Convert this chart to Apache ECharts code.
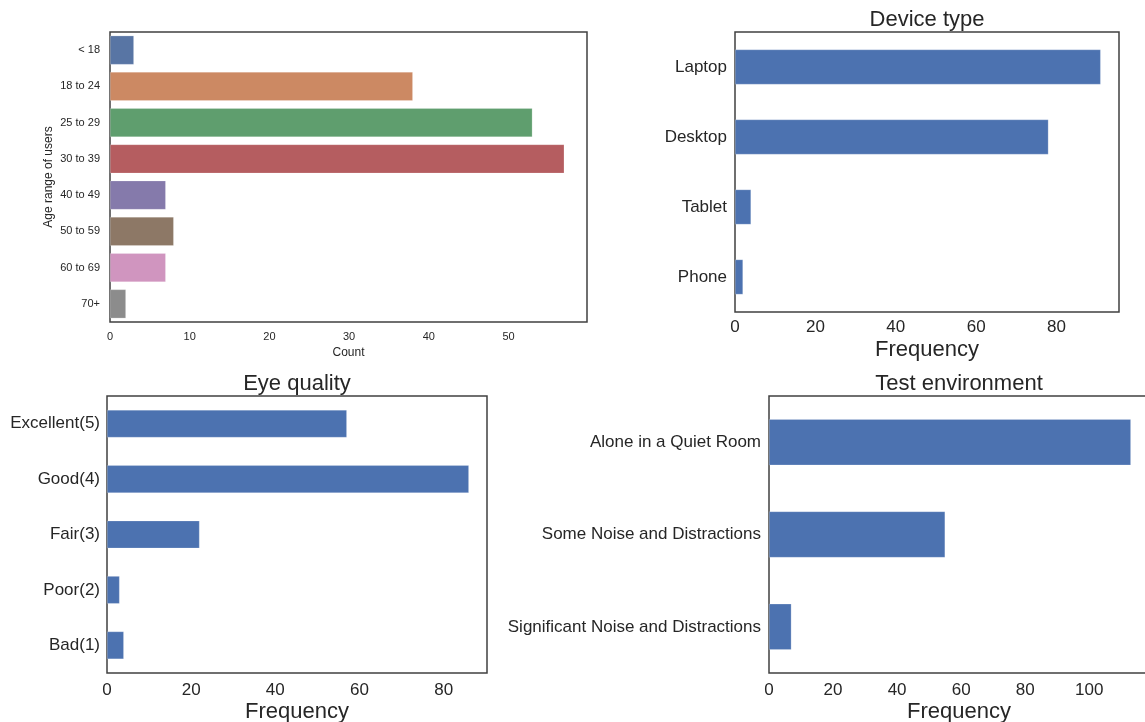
<!DOCTYPE html>
<html>
<head>
<meta charset="utf-8">
<title>Survey participants</title>
<script src="https://cdn.jsdelivr.net/npm/echarts@6/dist/echarts.min.js"></script>
<style>
  html, body { margin: 0; padding: 0; background: #ffffff; }
  #chart { width: 1145px; height: 722px; }
</style>
</head>
<body>
<div id="chart"></div>
<script>
// Age ranges (count of users)
const ageCategories = ['< 18', '18 to 24', '25 to 29', '30 to 39', '40 to 49', '50 to 59', '60 to 69', '70+'];
const ageCounts = [3, 38, 53, 57, 7, 8, 7, 2];
const ageColors = ['#5875a4', '#cc8963', '#5f9e6e', '#b55d60', '#857aab', '#8d7866', '#d095bf', '#8c8c8c'];
const ageTicks = [0, 10, 20, 30, 40, 50];

// Device type
const deviceCategories = ['Laptop', 'Desktop', 'Tablet', 'Phone'];
const deviceCounts = [91, 78, 4, 2];
const deviceTicks = [0, 20, 40, 60, 80];

// Eye quality
const eyeCategories = ['Excellent(5)', 'Good(4)', 'Fair(3)', 'Poor(2)', 'Bad(1)'];
const eyeCounts = [57, 86, 22, 3, 4];
const eyeTicks = [0, 20, 40, 60, 80];

// Test environment
const envCategories = ['Alone in a Quiet Room', 'Some Noise and Distractions', 'Significant Noise and Distractions'];
const envCounts = [113, 55, 7];
const envTicks = [0, 20, 40, 60, 80, 100];

const FONT = '"Liberation Sans", Arial, sans-serif';
const TEXT = '#262626';
const SPINE = '#404040';
const BAR_BLUE = '#4c72b0';

// x range padded by 5% past the largest bar
const padMax = arr => Math.max.apply(null, arr) * 1.05;

function grid(left, top, width, height) {
  return {
    left: left, top: top, width: width, height: height,
    show: true, borderColor: SPINE, borderWidth: 1.5,
    backgroundColor: 'transparent', containLabel: false,
    outerBoundsMode: 'none'
  };
}

function valueAxis(gridIndex, values, ticks, fontSize, labelMargin, name, nameSize, nameGap) {
  return {
    type: 'value', gridIndex: gridIndex,
    min: 0, max: padMax(values), interval: ticks[1] - ticks[0],
    axisLine: { show: false }, axisTick: { show: false }, splitLine: { show: false },
    axisLabel: {
      color: TEXT, fontFamily: FONT, fontSize: fontSize, margin: labelMargin,
      showMaxLabel: false,
      formatter: v => (ticks.indexOf(v) >= 0 ? String(v) : '')
    },
    name: name, nameLocation: 'middle', nameGap: nameGap,
    nameTextStyle: { color: TEXT, fontFamily: FONT, fontSize: nameSize }
  };
}

function categoryAxis(gridIndex, cats, fontSize, labelMargin, extra) {
  return Object.assign({
    type: 'category', gridIndex: gridIndex, data: cats, inverse: true,
    boundaryGap: true,
    axisLine: { show: false }, axisTick: { show: false }, splitLine: { show: false },
    axisLabel: { color: TEXT, fontFamily: FONT, fontSize: fontSize, margin: labelMargin, interval: 0 }
  }, extra || {});
}

const chart = echarts.init(document.getElementById('chart'), null, { renderer: 'canvas' });

const titleStyle = { color: TEXT, fontFamily: FONT, fontSize: 22, fontWeight: 'normal' };

chart.setOption({
  backgroundColor: '#ffffff',
  animation: false,
  title: [
    { text: 'Device type', left: 927, top: 9, textAlign: 'center', padding: 0, textStyle: titleStyle },
    { text: 'Eye quality', left: 297, top: 373, textAlign: 'center', padding: 0, textStyle: titleStyle },
    { text: 'Test environment', left: 959, top: 373, textAlign: 'center', padding: 0, textStyle: titleStyle }
  ],
  grid: [
    grid(110, 32, 477, 290),
    grid(735, 32, 384, 280),
    grid(107, 396, 380, 277),
    grid(769, 396, 380, 277)
  ],
  xAxis: [
    valueAxis(0, ageCounts, ageTicks, 11, 9, 'Count', 12, 25),
    valueAxis(1, deviceCounts, deviceTicks, 17, 7, 'Frequency', 22, 27),
    valueAxis(2, eyeCounts, eyeTicks, 17, 9, 'Frequency', 22, 28),
    valueAxis(3, envCounts, envTicks, 17, 9, 'Frequency', 22, 28)
  ],
  yAxis: [
    categoryAxis(0, ageCategories, 11, 10, {
      name: 'Age range of users', nameLocation: 'middle', nameRotate: 90, nameGap: 55,
      nameTextStyle: { color: TEXT, fontFamily: FONT, fontSize: 12 }
    }),
    categoryAxis(1, deviceCategories, 17, 8),
    categoryAxis(2, eyeCategories, 17, 7),
    categoryAxis(3, envCategories, 17, 8)
  ],
  series: [
    {
      type: 'bar', xAxisIndex: 0, yAxisIndex: 0, barWidth: '80%',
      data: ageCounts.map((v, i) => ({ value: v, itemStyle: { color: ageColors[i] } })),
      itemStyle: { borderColor: 'rgba(255,255,255,0.35)', borderWidth: 0.6 }
    },
    {
      type: 'bar', xAxisIndex: 1, yAxisIndex: 1, barWidth: '50%', data: deviceCounts,
      itemStyle: { color: BAR_BLUE, borderColor: 'rgba(255,255,255,0.35)', borderWidth: 0.6 }
    },
    {
      type: 'bar', xAxisIndex: 2, yAxisIndex: 2, barWidth: '50%', data: eyeCounts,
      itemStyle: { color: BAR_BLUE, borderColor: 'rgba(255,255,255,0.35)', borderWidth: 0.6 }
    },
    {
      type: 'bar', xAxisIndex: 3, yAxisIndex: 3, barWidth: '50%', data: envCounts,
      itemStyle: { color: BAR_BLUE, borderColor: 'rgba(255,255,255,0.35)', borderWidth: 0.6 }
    }
  ]
});
</script>
</body>
</html>
